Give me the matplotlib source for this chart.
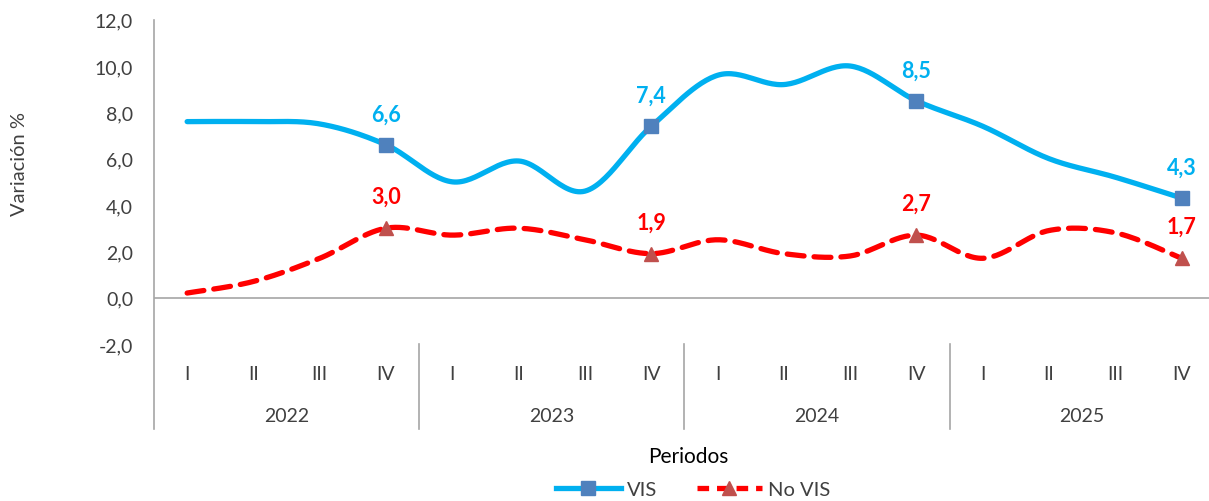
import matplotlib
matplotlib.use("Agg")
import matplotlib.pyplot as plt
import numpy as np
from matplotlib.lines import Line2D

plt.rcParams['font.family'] = ['Lato', 'DejaVu Sans']

quarters = ["I", "II", "III", "IV"] * 4
years = ["2022", "2023", "2024", "2025"]
vis = [7.6, 7.6, 7.5, 6.6, 5.0, 5.9, 4.6, 7.4, 9.6, 9.2, 10.0, 8.5, 7.4, 6.0, 5.2, 4.3]
no_vis = [0.2, 0.7, 1.7, 3.0, 2.7, 3.0, 2.5, 1.9, 2.5, 1.9, 1.8, 2.7, 1.7, 2.9, 2.8, 1.7]
label_idx = [3, 7, 11, 15]

VIS_C = "#00B0F0"
NOVIS_C = "#FF0000"
TXT = "#404040"
AX_C = "#A6A6A6"


def smooth(y, n=30):
    # bezier smoothing similar to excel's "smoothed line"
    y = np.asarray(y, float)
    x = np.arange(len(y), dtype=float)
    xs, ys = [], []
    for i in range(len(y) - 1):
        i0 = max(i - 1, 0)
        i3 = min(i + 2, len(y) - 1)
        p0 = np.array([x[i], y[i]])
        p3 = np.array([x[i + 1], y[i + 1]])
        c1 = p0 + (p3 - np.array([x[i0], y[i0]])) / 6
        c2 = p3 - (np.array([x[i3], y[i3]]) - p0) / 6
        t = np.linspace(0, 1, n)[:, None]
        pts = (1 - t) ** 3 * p0 + 3 * (1 - t) ** 2 * t * c1 + 3 * (1 - t) * t ** 2 * c2 + t ** 3 * p3
        xs.extend(pts[:, 0])
        ys.extend(pts[:, 1])
    return np.array(xs), np.array(ys)


W, H = 1209, 502
fig = plt.figure(figsize=(W / 100, H / 100), dpi=100)
left_px, top_px, bot_px = 154, 20.7, 345
ax = fig.add_axes([left_px / W, 1 - bot_px / H, (W - left_px) / W, (bot_px - top_px) / H])

step = 66.3
ax.set_xlim(-0.5, -0.5 + (W - left_px) / step)
ax.set_ylim(-2, 12)

xv, yv = smooth(vis)
ax.plot(xv, yv, color=VIS_C, lw=3.8, solid_capstyle='round', zorder=3)
xn, yn = smooth(no_vis)
ax.plot(xn, yn, color=NOVIS_C, lw=3.8, dashes=(3.2, 1.9), dash_capstyle='round', zorder=3)

xi = np.array(label_idx)
ax.plot(xi, [vis[i] for i in label_idx], ls='none', marker='s', ms=10,
        mfc="#4F81BD", mec="#4F81BD", zorder=4)
ax.plot(xi, [no_vis[i] for i in label_idx], ls='none', marker='^', ms=10,
        mfc="#C0504D", mec="#C0504D", zorder=4)

for i in label_idx:
    ax.annotate(f"{vis[i]:.1f}".replace(".", ","), (i, vis[i]), xytext=(0, 22),
                textcoords='offset points', ha='center', va='center',
                color=VIS_C, fontsize=15.5, fontweight='bold')
    ax.annotate(f"{no_vis[i]:.1f}".replace(".", ","), (i, no_vis[i]), xytext=(0, 23),
                textcoords='offset points', ha='center', va='center',
                color=NOVIS_C, fontsize=15.5, fontweight='bold')

ax.axhline(0, color=AX_C, lw=1.2, zorder=1)
for s in ax.spines.values():
    s.set_visible(False)

ax.set_yticks(np.arange(-2, 13, 2))
ax.set_yticklabels([f"{v:.1f}".replace(".", ",") for v in np.arange(-2, 13, 2)])
ax.tick_params(axis='y', length=0, pad=15, labelsize=14, labelcolor=TXT)
ax.set_xticks([])

# category axis (two levels)
trans = ax.get_xaxis_transform()
hgt = bot_px - top_px
ax.plot([-0.5, -0.5], [1, -(430 - bot_px) / hgt], color=AX_C, lw=1.2, transform=trans, clip_on=False)
for b in [3.5, 7.5, 11.5]:
    ax.plot([b, b], [0, -(430 - bot_px) / hgt], color=AX_C, lw=1.2, transform=trans, clip_on=False)
for i, q in enumerate(quarters):
    ax.text(i, -(375 - bot_px) / hgt, q, transform=trans, ha='center', va='center',
            fontsize=14, color=TXT)
for k, yr in enumerate(years):
    ax.text(4 * k + 1.5, -(417 - bot_px) / hgt, yr, transform=trans, ha='center', va='center',
            fontsize=14, color=TXT)

fig.text(20 / W, 1 - 164 / H, "Variación %", rotation=90, ha='center', va='center',
         fontsize=14.5, color=TXT)
fig.text(688 / W, 1 - 457 / H, "Periodos", ha='center', va='center', fontsize=15, color="#000000")

handles = [
    Line2D([], [], color=VIS_C, lw=3.8, marker='s', ms=10, mfc="#4F81BD", mec="#4F81BD"),
    Line2D([], [], color=NOVIS_C, lw=3.8, dashes=(2.2, 1.5), marker='^', ms=10,
           mfc="#C0504D", mec="#C0504D"),
]
fig.legend(handles, ["VIS", "No VIS"], loc='center', bbox_to_anchor=(693 / W, 1 - 490 / H),
           ncol=2, frameon=False, fontsize=14.5, handlelength=3.2, handletextpad=0.3,
           columnspacing=2.0, borderpad=0, labelcolor=TXT)

fig.savefig("out.png", dpi=100)
